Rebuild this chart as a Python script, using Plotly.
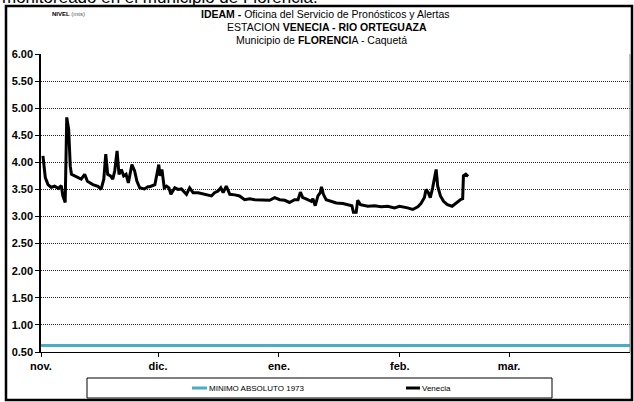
import datetime as dt
import plotly.graph_objects as go

# ---- data ----
start_date = dt.datetime(2010, 11, 1)
day_offsets = [0.5, 1.1, 1.8, 2.6, 3.5, 4.4, 5.2, 5.6, 6.2, 6.6,
               7.1, 7.5, 7.8, 9.0, 10.3, 11.2, 11.9, 13.3, 14.6, 15.4,
               16.1, 16.6, 17.1, 17.8, 18.4, 18.9, 19.5, 20.0, 20.6, 21.2,
               21.8, 22.4, 23.3, 24.0, 24.6, 25.3, 26.5, 27.4, 27.9, 29.2,
               29.9, 30.2, 30.5, 31.0, 31.6, 32.2, 32.8, 33.3, 34.3, 35.1,
               36.0, 37.3, 38.1, 39.0, 40.3, 42.0, 43.7, 44.5, 45.4, 46.1,
               46.7, 47.5, 48.4, 49.7, 50.9, 52.2, 53.5, 54.8, 56.1, 58.6,
               59.9, 61.2, 62.5, 63.7, 65.0, 65.9, 66.5, 67.1, 67.8, 68.7,
               69.3, 69.7, 70.3, 71.0, 71.6, 71.9, 72.4, 73.1, 74.4, 75.7,
               77.4, 79.1, 79.7, 80.1, 80.8, 81.2, 81.9, 83.8, 85.5, 87.2,
               88.9, 90.6, 91.9, 94.0, 95.3, 96.6, 97.4, 98.3, 98.7, 99.3,
               99.8, 100.4, 100.8, 101.3, 101.7, 102.4, 103.2, 104.2, 105.4, 106.4,
               107.5, 108.1, 108.3, 108.9, 109.5]
venecia = [4.12, 3.72, 3.59, 3.54, 3.56, 3.52, 3.57, 3.38, 3.26, 4.83,
           4.61, 3.93, 3.78, 3.73, 3.69, 3.78, 3.65, 3.59, 3.56, 3.50,
           3.69, 4.15, 3.78, 3.75, 3.69, 3.84, 4.21, 3.78, 3.87, 3.75,
           3.78, 3.62, 3.96, 3.84, 3.65, 3.53, 3.51, 3.55, 3.55, 3.59,
           3.84, 3.96, 3.75, 3.87, 3.53, 3.56, 3.53, 3.41, 3.53, 3.50,
           3.51, 3.41, 3.53, 3.44, 3.44, 3.41, 3.38, 3.44, 3.47, 3.53,
           3.44, 3.56, 3.41, 3.40, 3.38, 3.31, 3.33, 3.31, 3.31, 3.30,
           3.35, 3.31, 3.30, 3.26, 3.31, 3.31, 3.45, 3.35, 3.33, 3.30,
           3.28, 3.33, 3.20, 3.38, 3.44, 3.55, 3.41, 3.31, 3.28, 3.25,
           3.24, 3.22, 3.20, 3.08, 3.08, 3.30, 3.22, 3.19, 3.20, 3.18,
           3.19, 3.16, 3.19, 3.16, 3.13, 3.18, 3.24, 3.35, 3.50, 3.44,
           3.35, 3.53, 3.69, 3.87, 3.56, 3.38, 3.28, 3.22, 3.19, 3.25,
           3.31, 3.33, 3.75, 3.78, 3.74]
minimo_dates = ["2010-11-01", "2011-04-01"]
minimo_values = [0.62, 0.62]
month_ticks = ["2010-11-01", "2010-12-01", "2011-01-01", "2011-02-01", "2011-03-01"]
month_labels = ["nov.", "dic.", "ene.", "feb.", "mar."]
y_ticks = [0.5, 1.0, 1.5, 2.0, 2.5, 3.0, 3.5, 4.0, 4.5, 5.0, 5.5, 6.0]

venecia_dates = [start_date + dt.timedelta(days=d) for d in day_offsets]

W, H = 634, 402
L, R, T, B = 41, 4, 54, 50
PW, PH = W - L - R, H - T - B


def px(x):
    return (x - L) / PW


def py(y):
    return (H - B - y) / PH


FONT = "Liberation Sans, Arial, sans-serif"
NARROW = "Liberation Sans Narrow, Arial Narrow, Liberation Sans, Arial, sans-serif"

fig = go.Figure()
fig.add_trace(go.Scatter(x=minimo_dates, y=minimo_values, mode="lines",
                         name="MINIMO ABSOLUTO 1973",
                         line=dict(color="#4BACC6", width=3)))
fig.add_trace(go.Scatter(x=venecia_dates, y=venecia, mode="lines", name="Venecia",
                         line=dict(color="black", width=3)))

fig.update_layout(
    width=W, height=H,
    margin=dict(l=L, r=R, t=T, b=B, pad=0),
    paper_bgcolor="white", plot_bgcolor="white",
    showlegend=False,
    font=dict(family=FONT, color="black"),
    xaxis=dict(type="date", range=["2010-11-01", "2011-04-01"],
               tickvals=month_ticks, ticktext=month_labels,
               tickfont=dict(family=FONT, size=11, color="black", weight="bold"),
               ticks="outside", ticklen=4, tickcolor="black",
               showgrid=False, zeroline=False,
               showline=True, linecolor="black", linewidth=1),
    yaxis=dict(range=[0.5, 6.0], tickvals=y_ticks, tickformat=".2f",
               tickfont=dict(family=FONT, size=11, color="black", weight="bold"),
               ticks="outside", ticklen=4, tickcolor="black",
               showgrid=True, gridcolor="#222222", gridwidth=1, griddash="1px,1px",
               zeroline=False,
               showline=True, linecolor="black", linewidth=1.5),
)

shapes = [
    # outer chart frame
    dict(type="rect", xref="paper", yref="paper",
         x0=px(6), x1=px(632), y0=py(400), y1=py(6),
         line=dict(color="black", width=2.5), fillcolor="rgba(0,0,0,0)", layer="above"),
    # right border of plot area
    dict(type="line", xref="paper", yref="paper", x0=1, x1=1, y0=0, y1=1,
         line=dict(color="#808080", width=1)),
    # legend box
    dict(type="rect", xref="paper", yref="paper",
         x0=px(87), x1=px(552), y0=py(398), y1=py(378),
         line=dict(color="black", width=1), fillcolor="white"),
    dict(type="line", xref="paper", yref="paper",
         x0=px(192), x1=px(207), y0=py(388), y1=py(388),
         line=dict(color="#4BACC6", width=3)),
    dict(type="line", xref="paper", yref="paper",
         x0=px(406), x1=px(420), y0=py(388), y1=py(388),
         line=dict(color="black", width=3)),
]
fig.update_layout(shapes=shapes)

annotations = [
    dict(text="monitoreado en el municipio de Florencia.", x=px(0), y=py(-3),
         xanchor="left", yanchor="middle", font=dict(family=FONT, size=17)),
    dict(text="<b>NIVEL</b> <span style='color:#555'>(mts)</span>", x=px(50), y=py(14),
         xanchor="left", yanchor="middle", font=dict(family=NARROW, size=6)),
    dict(text="<b>IDEAM - </b>Oficina del Servicio de Pronósticos y Alertas", x=px(325), y=py(14),
         xanchor="center", yanchor="middle", font=dict(family=NARROW, size=10.5)),
    dict(text="ESTACION <b>VENECIA - RIO ORTEGUAZA</b>", x=px(327), y=py(27),
         xanchor="center", yanchor="middle", font=dict(family=NARROW, size=10.5)),
    dict(text="Municipio de <b>FLORENCI</b>A - Caquetá", x=px(321), y=py(40),
         xanchor="center", yanchor="middle", font=dict(family=NARROW, size=10.5)),
    dict(text="MINIMO ABSOLUTO 1973", x=px(207), y=py(388),
         xanchor="left", yanchor="middle", font=dict(family=NARROW, size=8)),
    dict(text="Venecia", x=px(420), y=py(388),
         xanchor="left", yanchor="middle", font=dict(family=NARROW, size=8)),
]
for a in annotations:
    a.update(xref="paper", yref="paper", showarrow=False)
fig.update_layout(annotations=annotations)

fig.write_html("out.html", config={"displayModeBar": False},
               post_script="document.body.style.margin='0';")
